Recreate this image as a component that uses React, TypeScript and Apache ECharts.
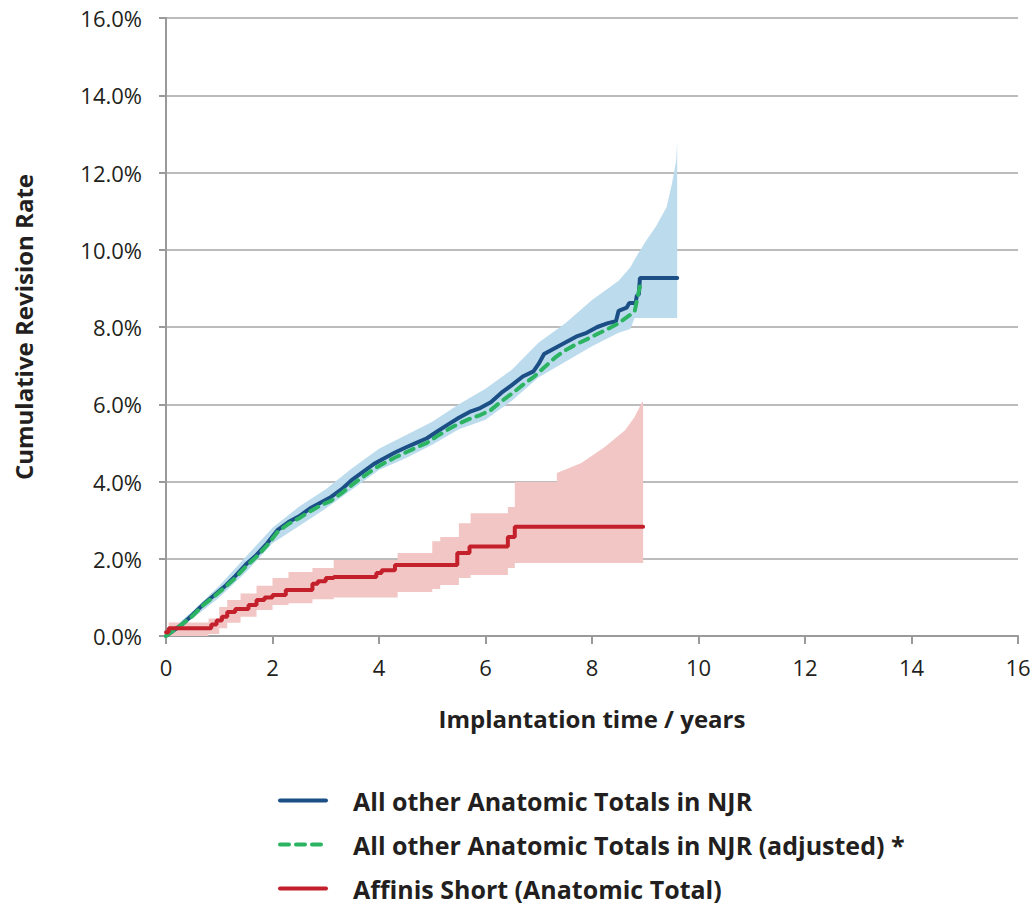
import React, { useEffect, useRef } from "react";
import * as echarts from "echarts";

// Tick labels
const xTicks = [0, 2, 4, 6, 8, 10, 12, 14, 16];
const yTicks = [0, 2, 4, 6, 8, 10, 12, 14, 16];

// All other Anatomic Totals in NJR (years, %)
const otherYears = [0, 0.1, 0.3, 0.5, 0.7, 0.9, 1.1, 1.3, 1.5, 1.7, 1.9, 2.1, 2.3, 2.5, 2.7, 2.9, 3.1, 3.3, 3.5, 3.7, 3.9, 4.1, 4.3, 4.5, 4.7, 4.9, 5.1, 5.3, 5.5, 5.7, 5.9, 6.1, 6.3, 6.5, 6.7, 6.9, 7.0, 7.1, 7.3, 7.5, 7.7, 7.9, 8.1, 8.3, 8.45, 8.5, 8.65, 8.7, 8.82, 8.84, 8.88, 8.9, 9.6];
const otherRate = [0, 0.1, 0.3, 0.55, 0.82, 1.05, 1.28, 1.55, 1.85, 2.1, 2.4, 2.75, 2.95, 3.1, 3.3, 3.45, 3.6, 3.8, 4.05, 4.25, 4.45, 4.6, 4.75, 4.88, 5.0, 5.12, 5.3, 5.48, 5.65, 5.8, 5.9, 6.05, 6.3, 6.5, 6.72, 6.85, 7.05, 7.3, 7.45, 7.6, 7.75, 7.85, 8.0, 8.1, 8.15, 8.42, 8.5, 8.62, 8.62, 8.8, 8.85, 9.27, 9.27];

// Adjusted (years, %)
const adjYears = [0, 0.1, 0.3, 0.5, 0.7, 0.9, 1.1, 1.3, 1.5, 1.7, 1.9, 2.1, 2.3, 2.5, 2.7, 2.9, 3.1, 3.3, 3.5, 3.7, 3.9, 4.1, 4.3, 4.5, 4.7, 4.9, 5.1, 5.3, 5.5, 5.7, 5.9, 6.1, 6.3, 6.5, 6.7, 6.9, 7.1, 7.3, 7.5, 7.7, 7.9, 8.1, 8.3, 8.5, 8.7, 8.8, 8.86, 8.9];
const adjRate = [0, 0.1, 0.3, 0.52, 0.8, 1.02, 1.25, 1.5, 1.8, 2.05, 2.35, 2.7, 2.9, 3.05, 3.22, 3.38, 3.5, 3.7, 3.92, 4.12, 4.32, 4.48, 4.62, 4.75, 4.88, 5.0, 5.18, 5.35, 5.5, 5.62, 5.72, 5.85, 6.08, 6.28, 6.5, 6.7, 6.95, 7.2, 7.4, 7.55, 7.68, 7.82, 7.95, 8.1, 8.3, 8.4, 8.8, 9.05];

// Confidence band for All other (years, lower %, upper %)
const otherBandYears = [0, 0.5, 1, 1.5, 2, 2.5, 3, 3.5, 4, 4.5, 5, 5.5, 6, 6.5, 7, 7.5, 8, 8.5, 8.72, 8.8, 9.0, 9.2, 9.4, 9.5, 9.58, 9.6];
const otherBandLow = [0, 0.45, 1.0, 1.65, 2.4, 2.85, 3.3, 3.8, 4.3, 4.6, 4.95, 5.35, 5.6, 6.1, 6.7, 7.1, 7.5, 7.85, 7.95, 8.23, 8.23, 8.23, 8.23, 8.23, 8.23, 8.23];
const otherBandHigh = [0.05, 0.65, 1.3, 2.05, 2.8, 3.35, 3.8, 4.35, 4.85, 5.2, 5.55, 6.0, 6.4, 6.9, 7.6, 8.1, 8.7, 9.2, 9.55, 9.75, 10.2, 10.6, 11.1, 11.7, 12.3, 12.8];

// Affinis Short (Anatomic Total) (years, %)
const affYears = [0, 0.05, 0.8, 0.85, 0.95, 1.05, 1.15, 1.3, 1.55, 1.7, 1.85, 2.0, 2.25, 2.75, 2.85, 3.0, 3.15, 3.95, 4.05, 4.3, 5.47, 5.7, 6.42, 6.55, 8.96];
const affRate = [0.1, 0.2, 0.2, 0.3, 0.4, 0.5, 0.62, 0.7, 0.8, 0.93, 1.0, 1.06, 1.19, 1.35, 1.42, 1.5, 1.53, 1.63, 1.7, 1.84, 2.15, 2.32, 2.56, 2.83, 2.83];

// Confidence band for Affinis Short (years, lower %, upper %)
const affBandYears = [0, 0.05, 0.8, 1.0, 1.15, 1.4, 1.7, 2.0, 2.3, 2.75, 3.15, 4.35, 5.0, 5.15, 5.5, 5.72, 6.42, 6.55, 7.34, 7.8, 8.24, 8.62, 8.8, 8.94, 8.96];
const affBandLow = [0, 0, 0.05, 0.2, 0.34, 0.5, 0.67, 0.8, 0.85, 0.95, 1.0, 1.14, 1.22, 1.32, 1.5, 1.58, 1.76, 1.89, 1.89, 1.89, 1.89, 1.89, 1.89, 1.89, 1.89];
const affBandHigh = [0.1, 0.35, 0.45, 0.75, 0.93, 1.1, 1.3, 1.5, 1.66, 1.76, 1.97, 2.15, 2.45, 2.56, 2.92, 3.18, 3.34, 3.99, 4.22, 4.48, 4.89, 5.33, 5.67, 6.06, 6.06];

const seriesNames = [
  "All other Anatomic Totals in NJR",
  "All other Anatomic Totals in NJR (adjusted) *",
  "Affinis Short (Anatomic Total)",
];

const FONT = "Open Sans";
const TEXT = "#231f20";

function pairs(xs: number[], ys: number[]) {
  return xs.map((x, i) => [x, ys[i]]);
}

// step segments are drawn for segments that start before stepUntil; linear afterwards
function bandPolygon(xs: number[], lo: number[], hi: number[], stepUntil: number) {
  const upper: number[][] = [];
  const lower: number[][] = [];
  for (let i = 0; i < xs.length; i++) {
    upper.push([xs[i], hi[i]]);
    lower.push([xs[i], lo[i]]);
    if (i < xs.length - 1 && xs[i] < stepUntil) {
      upper.push([xs[i + 1], hi[i]]);
      lower.push([xs[i + 1], lo[i]]);
    }
  }
  return upper.concat(lower.reverse());
}

function bandSeries(xs: number[], lo: number[], hi: number[], color: string, stepUntil: number) {
  const poly = bandPolygon(xs, lo, hi, stepUntil);
  return {
    type: "custom",
    silent: true,
    z: 1,
    clip: true,
    data: [[xs[0], lo[0]]],
    renderItem: (_params: any, api: any) => ({
      type: "polygon",
      shape: { points: poly.map((p) => api.coord(p)) },
      style: { fill: color, stroke: null },
    }),
  };
}

export default function App() {
  const ref = useRef<HTMLDivElement>(null);
  useEffect(() => {
    if (!ref.current) return;
    const chart = echarts.init(ref.current, null, { renderer: "svg" });
    chart.setOption({
      animation: false,
      backgroundColor: "#ffffff",
      textStyle: { fontFamily: FONT },
      grid: { left: 166, right: 16, top: 18, bottom: 271, containLabel: false },
      legend: {
        orient: "vertical",
        left: 273,
        top: 783,
        itemWidth: 46,
        itemHeight: 14,
        itemGap: 19,
        data: seriesNames,
        itemStyle: { opacity: 0 },
        lineStyle: { width: 4, cap: "round" },
        textStyle: {
          fontFamily: FONT,
          fontSize: 25,
          fontWeight: "bold",
          color: TEXT,
          padding: [0, 0, 0, 22],
        },
      },
      xAxis: {
        type: "value",
        min: 0,
        max: 16,
        interval: 2,
        name: "Implantation time / years",
        nameLocation: "middle",
        nameGap: 70,
        nameTextStyle: { fontFamily: FONT, fontSize: 24, fontWeight: "bold", color: TEXT },
        axisLine: { onZero: false, lineStyle: { color: "#9a9a9a", width: 2 } },
        axisTick: { show: true, length: 8, lineStyle: { color: "#9a9a9a", width: 2 } },
        axisLabel: {
          margin: 20,
          fontFamily: FONT,
          fontSize: 22,
          color: TEXT,
          formatter: (v: number) => (xTicks.includes(v) ? String(v) : ""),
        },
        splitLine: { show: false },
      },
      yAxis: {
        type: "value",
        min: 0,
        max: 16,
        interval: 2,
        name: "Cumulative Revision Rate",
        nameLocation: "middle",
        nameGap: 131,
        nameTextStyle: { fontFamily: FONT, fontSize: 24, fontWeight: "bold", color: TEXT },
        axisLine: { show: true, lineStyle: { color: "#9a9a9a", width: 2 } },
        axisTick: { show: true, length: 7, lineStyle: { color: "#9a9a9a", width: 2 } },
        axisLabel: {
          margin: 24,
          fontFamily: FONT,
          fontSize: 22,
          color: TEXT,
          formatter: (v: number) => (yTicks.includes(v) ? v.toFixed(1) + "%" : ""),
        },
        splitLine: { show: true, lineStyle: { color: "#a6a6a6", width: 1.5 } },
      },
      series: [
        bandSeries(otherBandYears, otherBandLow, otherBandHigh, "#bcdcee", -1),
        bandSeries(affBandYears, affBandLow, affBandHigh, "#f2c6c4", 6.6),
        {
          name: seriesNames[0],
          type: "line",
          symbol: "none",
          z: 3,
          data: pairs(otherYears, otherRate),
          lineStyle: { color: "#1b4f86", width: 4, cap: "round" },
          itemStyle: { color: "#1b4f86" },
        },
        {
          name: seriesNames[1],
          type: "line",
          symbol: "none",
          z: 4,
          data: pairs(adjYears, adjRate),
          lineStyle: { color: "#2db463", width: 4, type: [9, 7], cap: "round" },
          itemStyle: { color: "#2db463" },
        },
        {
          name: seriesNames[2],
          type: "line",
          step: "end",
          symbol: "none",
          z: 5,
          data: pairs(affYears, affRate),
          lineStyle: { color: "#c4202b", width: 4, cap: "round" },
          itemStyle: { color: "#c4202b" },
        },
      ],
    });
    return () => chart.dispose();
  }, []);
  return (
    <div
      ref={ref}
      style={{ position: "fixed", left: 0, top: 0, width: 1034, height: 907 }}
    />
  );
}
